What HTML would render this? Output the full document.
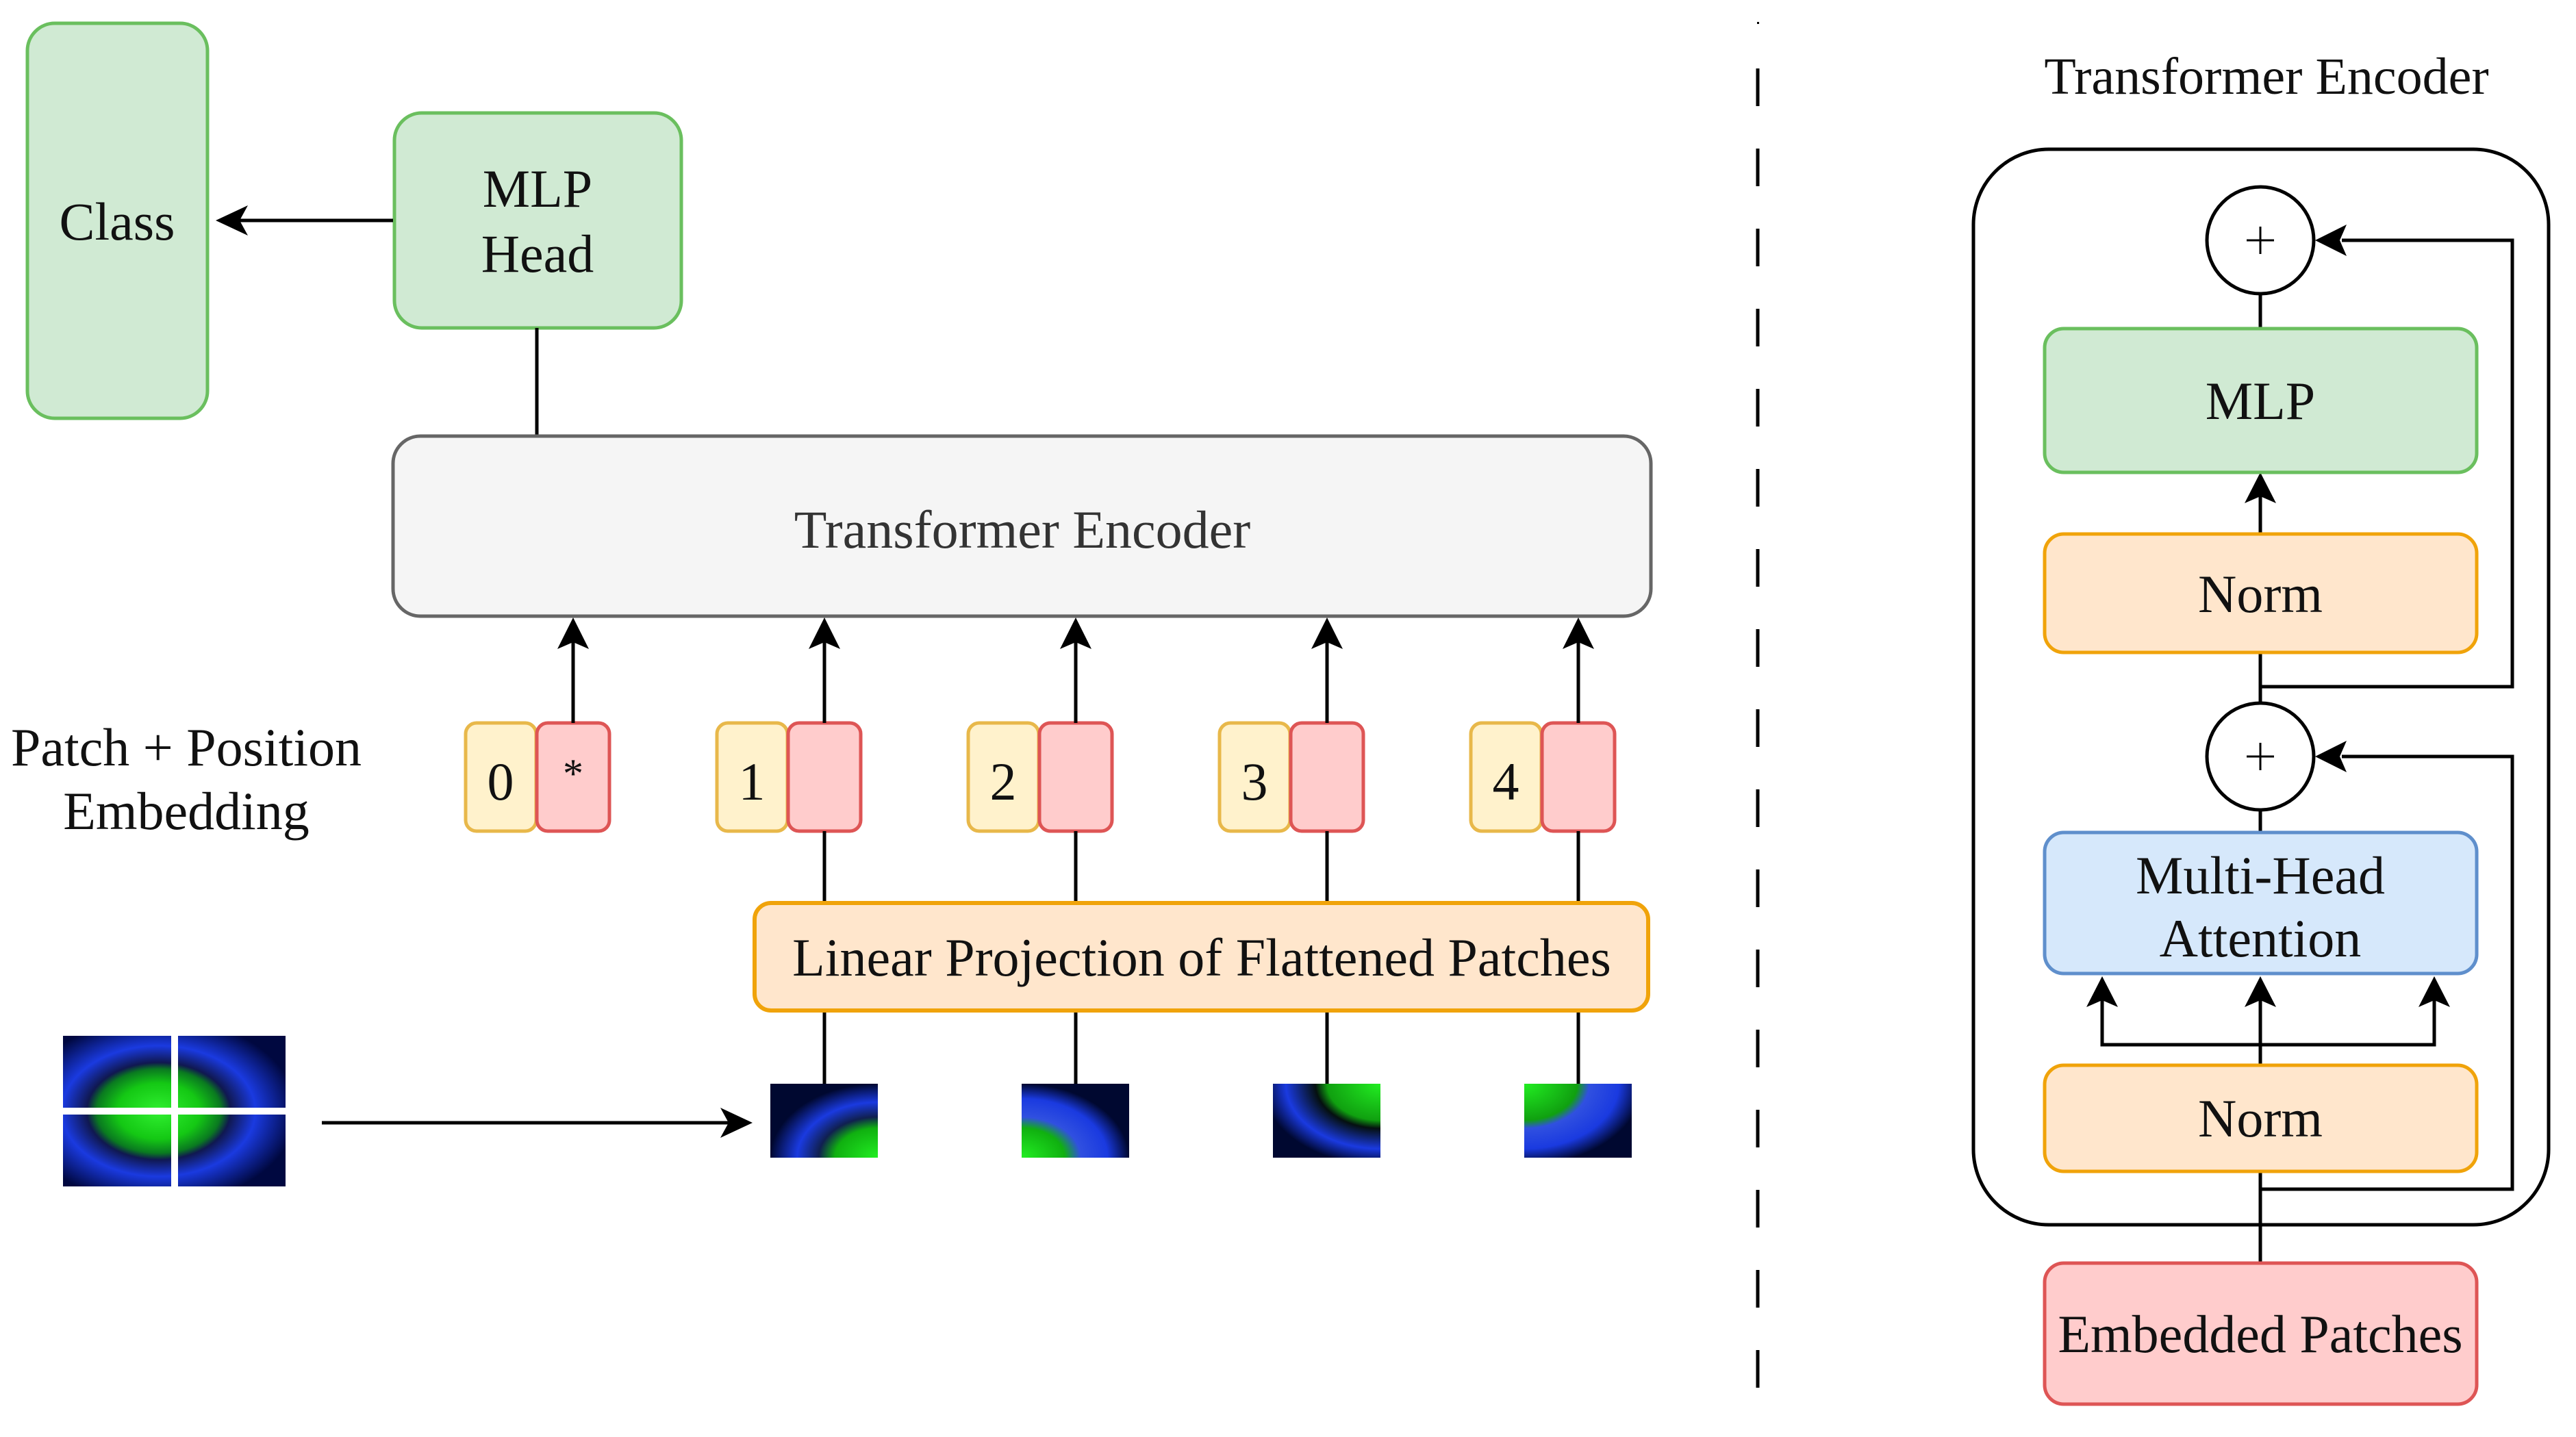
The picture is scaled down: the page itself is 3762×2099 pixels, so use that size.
<!DOCTYPE html>
<html><head><meta charset="utf-8"><style>
html,body{margin:0;padding:0;background:#fff}
svg{display:block}
svg text{font-family:"Liberation Serif","Tinos","Times New Roman","Times","Nimbus Roman","FreeSerif","Noto Serif CJK SC",serif;fill:#111}
</style></head><body>
<svg width="3762" height="2099" viewBox="0 0 3762 2099" xmlns="http://www.w3.org/2000/svg">
<defs>
<radialGradient id="eye" cx="0.43" cy="0.5" r="0.62">
<stop offset="0" stop-color="#30f030"/><stop offset="0.3" stop-color="#14c814"/><stop offset="0.45" stop-color="#0a7a20"/><stop offset="0.52" stop-color="#101850"/><stop offset="0.7" stop-color="#1a3ae0"/><stop offset="1" stop-color="#000840"/>
</radialGradient>
<radialGradient id="p1" cx="1" cy="1" r="1"><stop offset="0" stop-color="#22ee22"/><stop offset="0.4" stop-color="#10b010"/><stop offset="0.55" stop-color="#102050"/><stop offset="0.75" stop-color="#1a3ae0"/><stop offset="1" stop-color="#000830"/></radialGradient>
<radialGradient id="p2" cx="0" cy="1" r="1"><stop offset="0" stop-color="#22ee22"/><stop offset="0.4" stop-color="#10b010"/><stop offset="0.55" stop-color="#3050e0"/><stop offset="0.8" stop-color="#1a3ae0"/><stop offset="1" stop-color="#000830"/></radialGradient>
<radialGradient id="p3" cx="1" cy="0" r="1.1"><stop offset="0" stop-color="#22ee22"/><stop offset="0.45" stop-color="#10a010"/><stop offset="0.55" stop-color="#051010"/><stop offset="0.8" stop-color="#1a3ae0"/><stop offset="1" stop-color="#000830"/></radialGradient>
<radialGradient id="p4" cx="0" cy="0" r="1.1"><stop offset="0" stop-color="#22ee22"/><stop offset="0.45" stop-color="#10a010"/><stop offset="0.55" stop-color="#3050e0"/><stop offset="0.8" stop-color="#1a3ae0"/><stop offset="1" stop-color="#000830"/></radialGradient>
</defs>

<rect x="40" y="34" width="263" height="577" rx="40" fill="#d0ead3" stroke="#6abf5e" stroke-width="5"/>
<text x="171" y="350" font-size="78" text-anchor="middle">Class</text>
<rect x="576" y="165" width="419" height="314" rx="40" fill="#d0ead3" stroke="#6abf5e" stroke-width="5"/>
<text x="785" y="302" font-size="78" text-anchor="middle">MLP</text>
<text x="785" y="397" font-size="78" text-anchor="middle">Head</text>
<line x1="574" y1="322" x2="330" y2="322" stroke="#000" stroke-width="5"/>
<polygon points="315,322 362,300 350,322 362,344" fill="#000"/>
<line x1="784" y1="479" x2="784" y2="637" stroke="#000" stroke-width="5"/>

<rect x="574" y="637" width="1837" height="263" rx="40" fill="#f5f5f5" stroke="#666" stroke-width="5"/>
<text x="1493" y="800" font-size="78" text-anchor="middle" style="fill:#333">Transformer Encoder</text>

<g stroke-width="5">
<rect x="680" y="1056" width="103" height="158" rx="16" fill="#fff2cc" stroke="#e8b84a"/>
<rect x="784" y="1056" width="106" height="158" rx="16" fill="#ffcccc" stroke="#de5555"/>
<rect x="1047" y="1056" width="103" height="158" rx="16" fill="#fff2cc" stroke="#e8b84a"/>
<rect x="1151" y="1056" width="106" height="158" rx="16" fill="#ffcccc" stroke="#de5555"/>
<rect x="1414" y="1056" width="103" height="158" rx="16" fill="#fff2cc" stroke="#e8b84a"/>
<rect x="1518" y="1056" width="106" height="158" rx="16" fill="#ffcccc" stroke="#de5555"/>
<rect x="1781" y="1056" width="103" height="158" rx="16" fill="#fff2cc" stroke="#e8b84a"/>
<rect x="1885" y="1056" width="106" height="158" rx="16" fill="#ffcccc" stroke="#de5555"/>
<rect x="2148" y="1056" width="103" height="158" rx="16" fill="#fff2cc" stroke="#e8b84a"/>
<rect x="2252" y="1056" width="106" height="158" rx="16" fill="#ffcccc" stroke="#de5555"/>
</g>
<g font-size="78" text-anchor="middle">
<text x="731" y="1168">0</text>
<text x="837" y="1150" font-size="60">*</text>
<text x="1098" y="1168">1</text>
<text x="1465" y="1168">2</text>
<text x="1832" y="1168">3</text>
<text x="2199" y="1168">4</text>
</g>
<text x="272" y="1118" font-size="78" text-anchor="middle">Patch + Position</text>
<text x="272" y="1211" font-size="78" text-anchor="middle">Embedding</text>

<g stroke="#000" stroke-width="5">
<line x1="837" y1="1056" x2="837" y2="930"/>
<line x1="1204" y1="1056" x2="1204" y2="930"/>
<line x1="1571" y1="1056" x2="1571" y2="930"/>
<line x1="1938" y1="1056" x2="1938" y2="930"/>
<line x1="2305" y1="1056" x2="2305" y2="930"/>
<line x1="1204" y1="1214" x2="1204" y2="1318"/>
<line x1="1571" y1="1214" x2="1571" y2="1318"/>
<line x1="1938" y1="1214" x2="1938" y2="1318"/>
<line x1="2305" y1="1214" x2="2305" y2="1318"/>
<line x1="1204" y1="1477" x2="1204" y2="1583"/>
<line x1="1571" y1="1477" x2="1571" y2="1583"/>
<line x1="1938" y1="1477" x2="1938" y2="1583"/>
<line x1="2305" y1="1477" x2="2305" y2="1583"/>
</g>
<g fill="#000">
<polygon points="837,902 860,948 837,938 814,948"/>
<polygon points="1204,902 1227,948 1204,938 1181,948"/>
<polygon points="1571,902 1594,948 1571,938 1548,948"/>
<polygon points="1938,902 1961,948 1938,938 1915,948"/>
<polygon points="2305,902 2328,948 2305,938 2282,948"/>
</g>

<rect x="1102" y="1319" width="1305" height="157" rx="24" fill="#ffe6cc" stroke="#f0a30a" stroke-width="6"/>
<text x="1755" y="1425" font-size="78" text-anchor="middle">Linear Projection of Flattened Patches</text>

<rect x="92" y="1513" width="325" height="220" fill="url(#eye)"/>
<rect x="250" y="1510" width="10" height="226" fill="#fff"/>
<rect x="89" y="1618" width="331" height="10" fill="#fff"/>
<line x1="470" y1="1640" x2="1080" y2="1640" stroke="#000" stroke-width="5"/>
<polygon points="1099,1640 1052,1618 1064,1640 1052,1662" fill="#000"/>

<rect x="1125" y="1583" width="157" height="108" fill="url(#p1)"/>
<rect x="1492" y="1583" width="157" height="108" fill="url(#p2)"/>
<rect x="1859" y="1583" width="157" height="108" fill="url(#p3)"/>
<rect x="2226" y="1583" width="157" height="108" fill="url(#p4)"/>

<line x1="2567" y1="100" x2="2567" y2="2055" stroke="#000" stroke-width="5" stroke-dasharray="55 62"/>
<rect x="2566" y="32" width="3" height="3" fill="#000"/>

<text x="3310" y="137" font-size="76" text-anchor="middle">Transformer Encoder</text>
<rect x="2882" y="218" width="840" height="1571" rx="110" fill="none" stroke="#000" stroke-width="5"/>

<g stroke="#000" stroke-width="5" fill="none">
<line x1="3301" y1="429" x2="3301" y2="479"/>
<line x1="3301" y1="779" x2="3301" y2="715"/>
<polyline points="3301,953 3301,1003 3669,1003 3669,351 3420,351"/>
<line x1="3301" y1="1003" x2="3301" y2="1027"/>
<line x1="3301" y1="1183" x2="3301" y2="1216"/>
<polyline points="3301,1711 3301,1737 3669,1737 3669,1105 3420,1105"/>
<line x1="3301" y1="1737" x2="3301" y2="1845"/>
<line x1="3301" y1="1556" x2="3301" y2="1450"/>
<polyline points="3070,1450 3070,1526 3555,1526 3555,1450"/>
</g>
<g fill="#000">
<polygon points="3301,690 3324,735 3301,725 3278,735"/>
<polygon points="3381,351 3427,328 3417,351 3427,374"/>
<polygon points="3381,1105 3427,1082 3417,1105 3427,1128"/>
<polygon points="3070,1426 3093,1471 3070,1461 3047,1471"/>
<polygon points="3301,1426 3324,1471 3301,1461 3278,1471"/>
<polygon points="3555,1426 3578,1471 3555,1461 3532,1471"/>
</g>
<circle cx="3301" cy="351" r="78" fill="#fff" stroke="#000" stroke-width="5"/>
<path d="M3281 351 H3321 M3301 331 V371" stroke="#000" stroke-width="3"/>
<circle cx="3301" cy="1105" r="78" fill="#fff" stroke="#000" stroke-width="5"/>
<path d="M3281 1105 H3321 M3301 1085 V1125" stroke="#000" stroke-width="3"/>

<rect x="2986" y="480" width="631" height="210" rx="28" fill="#d0ead3" stroke="#6abf5e" stroke-width="5"/>
<text x="3301" y="612" font-size="78" text-anchor="middle">MLP</text>
<rect x="2986" y="780" width="631" height="173" rx="28" fill="#ffe6cc" stroke="#f0a30a" stroke-width="5"/>
<text x="3301" y="894" font-size="78" text-anchor="middle">Norm</text>
<rect x="2986" y="1216" width="631" height="206" rx="28" fill="#d6e8fb" stroke="#5f8fcc" stroke-width="5"/>
<text x="3301" y="1305" font-size="78" text-anchor="middle">Multi-Head</text>
<text x="3301" y="1397" font-size="78" text-anchor="middle">Attention</text>
<rect x="2986" y="1556" width="631" height="155" rx="28" fill="#ffe6cc" stroke="#f0a30a" stroke-width="5"/>
<text x="3301" y="1660" font-size="78" text-anchor="middle">Norm</text>
<rect x="2986" y="1845" width="631" height="206" rx="28" fill="#ffcccc" stroke="#de5555" stroke-width="5"/>
<text x="3301" y="1975" font-size="78" text-anchor="middle">Embedded Patches</text>
</svg>
</body></html>
